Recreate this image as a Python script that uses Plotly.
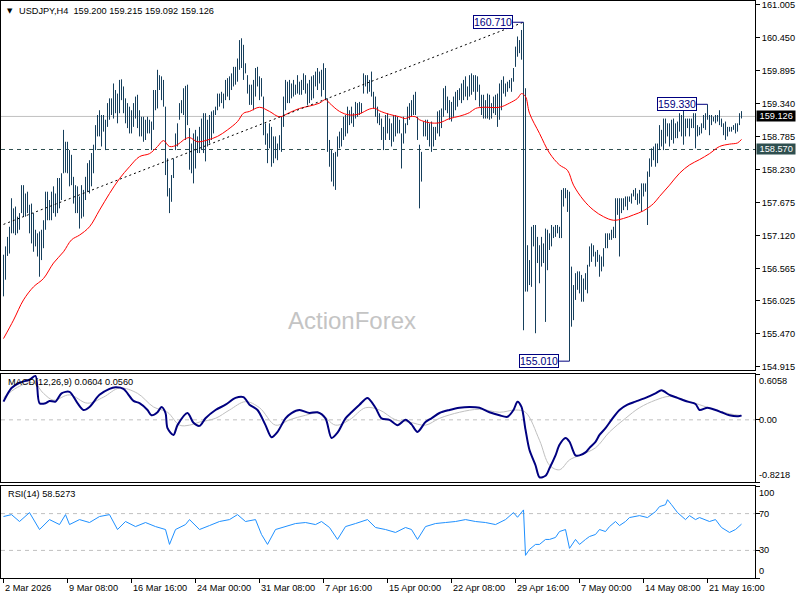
import plotly.graph_objects as go

# ------------------------------------------------------------------ data
title_text = "USDJPY,H4  159.200 159.215 159.092 159.126"
macd_text = "MACD(12,26,9) 0.0604 0.0560"
rsi_text = "RSI(14) 58.5273"
watermark = "ActionForex"

# H4 bars (index 0 = 2 Mar 2026 00:00)
high = [
    156.80, 156.94, 157.10, 157.27, 157.75, 157.58, 157.61, 157.44, 157.50, 157.97,
    157.97, 157.83, 157.86, 157.64, 157.66, 157.50, 157.22, 157.16, 157.19, 157.22,
    157.38, 157.86, 157.86, 157.72, 157.86, 157.95, 157.83, 158.09, 158.09, 158.17,
    158.90, 158.70, 158.70, 158.56, 158.48, 158.11, 157.97, 157.95, 157.78, 157.97,
    157.89, 158.11, 158.34, 158.39, 158.51, 158.65, 158.98, 159.15, 159.23, 159.15,
    159.15, 159.07, 159.35, 159.43, 159.43, 159.68, 159.57, 159.51, 159.74, 159.75,
    159.63, 159.43, 159.35, 159.29, 159.23, 159.35, 159.46, 159.49, 159.23, 159.12,
    159.12, 159.07, 159.12, 159.07, 159.04, 159.57, 159.57, 159.91, 159.82, 159.80,
    159.74, 159.29, 158.42, 157.92, 158.14, 158.42, 158.84, 159.01, 159.35, 159.40,
    159.60, 159.64, 159.66, 158.93, 158.67, 158.84, 158.90, 158.79, 158.95, 159.09,
    159.18, 159.18, 159.07, 159.15, 159.21, 159.23, 159.29, 159.51, 159.51, 159.54,
    159.51, 159.74, 159.77, 159.80, 159.85, 159.96, 159.96, 160.10, 160.41, 160.44,
    160.33, 160.02, 159.82, 159.66,
    159.66, 159.74, 159.94, 159.96, 159.80, 159.77, 159.46, 159.01, 158.84, 159.01,
    158.95, 158.79, 158.79, 158.67, 158.81, 159.12, 159.46, 159.74, 159.71, 159.74,
    159.68, 159.74, 159.66, 159.82, 159.71, 159.74, 159.85, 159.82, 159.68, 159.74,
    159.80, 159.82, 159.88, 159.94, 159.88, 159.91, 160.02, 159.94, 159.43, 158.73,
    158.56, 158.51, 158.53, 158.79, 158.87, 158.93, 159.12, 159.15, 159.29, 159.23,
    159.29, 159.18, 159.37, 159.35, 159.37, 159.35, 159.85, 159.82, 159.82, 159.74,
    159.88, 159.54, 159.46, 159.29, 159.18, 159.09, 158.95, 159.15, 159.18, 159.09,
    159.01, 159.15, 159.15, 159.12, 159.07, 158.84, 159.12, 159.01, 159.29, 159.35,
    159.40, 159.49, 159.54, 159.12, 158.65, 158.53, 159.04, 159.07, 159.07, 159.01,
    159.04, 158.95, 158.95, 159.21, 159.23, 159.26, 159.60, 159.64, 159.46, 159.40,
    159.37, 159.46, 159.54, 159.57, 159.60, 159.68, 159.74, 159.80, 159.63, 159.82,
    159.85, 159.82, 159.82, 159.80, 159.66, 159.49, 159.49, 159.40, 159.51, 159.49,
    159.35, 159.46, 159.49, 159.51, 159.68,
    159.74, 159.80, 159.68, 159.71, 159.74, 159.77, 159.94, 160.30, 160.47, 160.41,
    160.58, 160.71, 159.60, 156.96, 156.71, 157.27, 157.30, 157.30, 157.10, 156.96,
    157.10, 156.99, 157.24, 157.22, 157.16, 157.30, 157.27, 157.30, 157.30, 157.27,
    157.89, 157.92, 157.92, 157.89, 157.86,
    156.60, 156.29, 156.49, 156.52, 156.52, 156.46, 156.40, 156.49, 156.63, 156.94,
    156.99, 156.96, 156.85, 156.88, 156.80, 156.77, 156.91, 157.16, 157.16, 157.16,
    157.22, 157.27, 157.75, 157.75, 157.75, 157.75, 157.75, 157.78, 157.78, 157.78,
    157.83, 157.89, 157.92, 157.83, 157.89, 158.00, 158.00, 158.00, 158.20, 158.42,
    158.59, 158.62, 158.67, 158.67, 158.98, 158.90, 159.09, 159.09, 159.01, 159.01,
    159.07, 159.09, 159.01, 159.04, 159.18, 159.15, 159.26, 159.09, 159.09, 159.09,
    159.09, 159.18, 159.18, 158.98, 158.95, 159.01, 159.15, 159.18, 159.33, 159.15,
    159.15, 159.12, 159.15, 159.15, 159.23, 159.09, 159.01, 159.04, 158.95, 158.95,
    158.95, 158.98, 159.01, 159.01, 159.18, 159.215,
]
low = [
    156.10, 156.38, 156.78, 156.82, 157.16, 157.16, 157.13, 157.16, 157.22, 157.50,
    157.44, 157.44, 157.50, 157.16, 156.99, 156.85, 156.94, 156.77, 156.43, 156.71,
    156.91, 157.22, 157.38, 157.38, 157.38, 157.50, 157.44, 157.50, 157.58, 157.72,
    158.17, 158.18, 158.17, 157.95, 157.97, 157.66, 157.50, 157.50, 157.24, 157.41,
    157.44, 157.72, 157.86, 157.83, 157.95, 158.17, 158.56, 158.79, 158.79, 158.62,
    158.87, 158.56, 158.95, 159.07, 159.15, 159.09, 159.18, 159.01, 159.18, 159.40,
    159.18, 159.01, 158.93, 158.84, 158.84, 158.95, 159.09, 158.93, 158.79, 158.79,
    158.70, 158.73, 158.84, 158.84, 158.56, 158.90, 159.23, 159.26, 159.57, 159.40,
    159.29, 158.14, 157.78, 157.50, 157.69, 158.09, 158.56, 158.62, 159.07, 159.18,
    159.15, 158.73, 158.98, 158.23, 158.17, 158.00, 158.25, 158.51, 158.51, 158.56,
    158.51, 158.37, 158.62, 158.67, 158.73, 158.84, 159.15, 159.23, 159.29, 159.35,
    159.26, 159.40, 159.46, 159.40, 159.57, 159.63, 159.66, 159.71, 159.91, 159.94,
    159.74, 159.85, 159.51, 159.32,
    159.32, 159.23, 159.46, 159.63, 159.40, 159.46, 158.81, 158.65, 158.34, 158.59,
    158.28, 158.34, 158.42, 158.39, 158.56, 158.53, 158.95, 159.23, 159.35, 159.35,
    159.43, 159.46, 159.49, 159.51, 159.49, 159.49, 159.57, 159.51, 159.32, 159.35,
    159.40, 159.43, 159.63, 159.57, 159.68, 159.46, 159.57, 159.40, 158.53, 158.28,
    158.03, 157.95, 157.89, 158.45, 158.59, 158.62, 158.73, 158.79, 158.84, 158.98,
    159.01, 158.95, 159.09, 159.12, 159.15, 159.18, 159.51, 159.63, 159.51, 159.54,
    159.46, 159.26, 159.12, 159.01, 158.98, 158.73, 158.56, 158.73, 158.84, 158.73,
    158.62, 158.70, 158.79, 158.84, 158.84, 158.25, 158.67, 158.84, 158.98, 159.07,
    159.12, 159.15, 159.15, 158.73, 157.58, 158.03, 158.79, 158.79, 158.73, 158.62,
    158.53, 158.62, 158.73, 158.84, 158.79, 158.93, 159.12, 159.23, 159.18, 159.07,
    159.04, 159.12, 159.23, 159.29, 159.40, 159.35, 159.40, 159.46, 159.40, 159.46,
    159.49, 159.54, 159.40, 159.54, 159.29, 159.15, 159.09, 159.09, 159.09, 159.07,
    159.09, 159.18, 159.15, 158.95, 159.07,
    159.23, 159.51, 159.46, 159.54, 159.60, 159.54, 159.71, 159.96, 160.13, 160.19,
    160.08, 155.53, 156.18, 156.18, 156.29, 156.26, 156.94, 155.48, 156.66, 156.32,
    156.60, 156.66, 155.67, 156.54, 156.88, 156.94, 157.08, 157.10, 157.16, 157.08,
    157.08, 157.61, 157.75, 157.52, 155.01,
    155.59, 155.70, 156.04, 156.21, 156.15, 156.01, 156.01, 156.21, 156.15, 156.60,
    156.68, 156.77, 156.60, 156.68, 156.43, 156.52, 156.60, 156.91, 156.91, 157.05,
    157.05, 157.08, 157.08, 157.47, 156.77, 157.50, 157.55, 157.61, 157.55, 157.69,
    157.66, 157.78, 157.72, 157.64, 157.66, 157.52, 157.78, 157.86, 157.30, 158.11,
    158.28, 158.39, 158.28, 158.34, 158.56, 158.62, 158.56, 158.67, 158.79, 158.62,
    158.73, 158.67, 158.76, 158.76, 158.87, 158.79, 158.65, 158.79, 158.93, 158.79,
    158.93, 158.93, 158.59, 158.79, 158.81, 158.84, 158.93, 158.90, 159.07, 158.81,
    158.98, 159.04, 159.01, 159.04, 158.98, 158.95, 158.81, 158.73, 158.79, 158.87,
    158.87, 158.90, 158.84, 158.87, 158.98, 159.092,
]

# moving average (red)
ma_idx = [0, 5, 10, 15, 20, 25, 30, 34, 38, 43, 48, 53, 58, 63, 68, 73, 77, 80, 83, 87,
          90, 93, 97, 102, 107, 112, 117, 120, 123, 128, 133, 138, 143, 148, 153, 158, 161, 163, 168, 173,
          178, 183, 186, 188, 193, 198, 201, 203, 206, 208, 213, 218, 223, 228, 233, 236, 240, 248, 253, 257,
          259, 261, 263, 268, 273, 278, 282, 285, 290, 295, 300, 305, 310, 315, 320, 325, 328, 333, 338, 343,
          348, 353, 358, 363, 367, 369]
ma_val = [155.39, 155.70, 156.04, 156.26, 156.40, 156.66, 156.85, 157.05, 157.13, 157.27,
          157.55, 157.83, 158.08, 158.28, 158.45, 158.50, 158.62, 158.72, 158.62, 158.65,
          158.73, 158.77, 158.70, 158.73, 158.79, 158.90, 159.04, 159.18, 159.21, 159.28,
          159.21, 159.12, 159.19, 159.26, 159.30, 159.35, 159.41, 159.35, 159.21, 159.15,
          159.17, 159.25, 159.26, 159.22, 159.16, 159.12, 159.09, 159.12, 159.12, 159.07,
          159.02, 159.02, 159.09, 159.13, 159.19, 159.26, 159.28, 159.28, 159.35, 159.43,
          159.51, 159.46, 159.18, 158.84, 158.51, 158.31, 158.22, 157.97, 157.72, 157.55,
          157.44, 157.38, 157.41, 157.47, 157.54, 157.66, 157.78, 157.97, 158.17, 158.31,
          158.40, 158.50, 158.62, 158.66, 158.68, 158.74]

# MACD main line (navy) and signal (silver)
macd_idx = [0, 4, 8, 13, 16, 18, 21, 23, 26, 29, 33, 37, 40, 43, 48, 53, 56, 60, 62, 65,
            68, 72, 74, 77, 79, 81, 82, 85, 87, 92, 95, 98, 101, 106, 111, 116, 120, 123, 127, 131,
            134, 137, 141, 144, 148, 153, 157, 161, 164, 167, 171, 174, 178, 182, 186, 189, 193, 197, 201, 204,
            207, 211, 214, 218, 223, 228, 233, 238, 243, 248, 252, 255, 257, 259, 261, 263, 266, 268, 271, 273,
            276, 278, 281, 283, 286, 288, 291, 293, 296, 298, 301, 304, 308, 312, 316, 321, 326, 329, 333, 337,
            342, 346, 348, 352, 356, 359, 363, 368, 369]
macd_val = [0.24, 0.42, 0.49, 0.53, 0.58, 0.22, 0.22, 0.25, 0.24, 0.35,
            0.37, 0.22, 0.13, 0.17, 0.33, 0.41, 0.43, 0.41, 0.35, 0.25,
            0.22, 0.13, 0.06, 0.10, 0.17, 0.09, -0.11, -0.20, -0.07, 0.09,
            -0.04, -0.08, 0.02, 0.13, 0.20, 0.29, 0.30, 0.20, 0.13, -0.07,
            -0.23, -0.16, 0.02, 0.09, 0.13, 0.09, 0.10, 0.02, -0.24, -0.17,
            0.02, 0.10, 0.20, 0.29, 0.16, 0.02, 0.00, -0.07, 0.00, -0.06,
            -0.16, -0.03, 0.02, 0.09, 0.13, 0.16, 0.17, 0.16, 0.10, 0.06,
            0.04, 0.13, 0.24, 0.17, -0.13, -0.40, -0.60, -0.76, -0.74, -0.64,
            -0.47, -0.33, -0.24, -0.29, -0.47, -0.47, -0.43, -0.37, -0.29, -0.20,
            -0.11, 0.00, 0.13, 0.20, 0.24, 0.29, 0.35, 0.39, 0.33, 0.29,
            0.24, 0.21, 0.13, 0.16, 0.13, 0.10, 0.06, 0.05, 0.0604]
sig_idx = [0, 7, 15, 20, 25, 33, 42, 50, 58, 67, 75, 82, 88, 93, 98, 106, 113, 121, 128, 136,
           143, 151, 158, 166, 173, 181, 188, 196, 203, 211, 218, 228, 238, 248, 256, 261, 268, 273, 278, 283,
           288, 296, 303, 311, 318, 326, 333, 341, 348, 356, 363, 369]
sig_val = [0.29, 0.43, 0.49, 0.35, 0.26, 0.33, 0.22, 0.30, 0.42, 0.35,
           0.17, 0.10, -0.07, -0.07, -0.03, 0.02, 0.13, 0.24, 0.16, -0.07,
           0.00, 0.06, 0.09, -0.07, 0.00, 0.16, 0.13, 0.00, -0.03, -0.07,
           0.02, 0.10, 0.14, 0.10, 0.13, 0.10, -0.27, -0.60, -0.66, -0.53,
           -0.47, -0.37, -0.16, 0.02, 0.16, 0.26, 0.31, 0.26, 0.20, 0.13,
           0.08, 0.056]

# RSI(14)
rsi_idx = [0, 4, 8, 13, 18, 23, 28, 31, 33, 38, 43, 48, 53, 57, 61, 66, 71, 76, 81, 83,
           86, 91, 93, 98, 103, 108, 113, 117, 121, 126, 129, 132, 136, 141, 146, 151, 156, 159, 163, 167,
           171, 176, 179, 182, 186, 191, 196, 201, 204, 207, 211, 216, 221, 226, 231, 236, 241, 246, 251, 255,
           257, 260, 261, 263, 266, 268, 271, 273, 276, 278, 281, 283, 286, 288, 291, 293, 296, 298, 301, 303,
           306, 308, 311, 313, 318, 322, 326, 328, 331, 332, 334, 337, 341, 343, 346, 348, 353, 356, 359, 363,
           366, 369]
rsi_val = [66.8, 68.9, 61.4, 71.1, 52.7, 63.5, 58.1, 68.9, 58.1, 63.5,
           60.3, 66.8, 68.9, 52.7, 61.4, 55.9, 60.3, 55.9, 52.7, 36.5,
           52.7, 58.1, 63.5, 52.7, 57.0, 61.4, 63.5, 68.9, 61.4, 63.5,
           47.3, 36.5, 52.7, 55.9, 59.2, 60.3, 58.1, 61.4, 54.9, 41.9,
           55.9, 59.2, 61.4, 63.5, 54.9, 52.7, 49.5, 54.9, 52.7, 41.9,
           55.9, 59.2, 60.3, 61.4, 63.5, 61.4, 60.3, 58.1, 63.5, 71.1,
           66.0, 74.0, 24.6, 31.1, 36.5, 36.5, 41.9, 41.9, 44.1, 50.5,
           52.7, 32.2, 41.9, 36.5, 41.9, 45.1, 47.3, 52.7, 50.5, 55.9,
           61.4, 57.0, 61.4, 65.7, 67.8, 65.7, 72.2, 77.6, 79.7, 85.1,
           79.7, 71.1, 63.5, 67.8, 63.5, 65.7, 61.4, 63.5, 54.9, 49.5,
           52.7, 58.53]

trend_idx = [0, 260]
trend_price = [157.31, 160.71]
mark_idx = [260, 283, 352]
mark_price = [160.710, 155.010, 159.330]
bid_price = 159.126
level_price = 158.570
price_ticks = [161.005, 160.450, 159.895, 159.340, 158.785, 158.230,
               157.675, 157.120, 156.565, 156.025, 155.470, 154.915]
macd_ticks = [0.6058, 0.0, -0.8218]
macd_tick_text = ["0.6058", "0.00", "-0.8218"]
rsi_ticks = [100, 70, 30, 0]
rsi_levels = [70, 30]
date_idx = [0, 32, 64, 96, 128, 160, 192, 224, 256, 288, 320, 352]
date_labels = ["2 Mar 2026", "9 Mar 08:00", "16 Mar 16:00", "24 Mar 00:00",
               "31 Mar 08:00", "7 Apr 16:00", "15 Apr 00:00", "22 Apr 08:00",
               "29 Apr 16:00", "7 May 00:00", "14 May 08:00", "21 May 16:00"]

assert len(high) == len(low) == 370
assert len(ma_idx) == len(ma_val)
assert len(macd_idx) == len(macd_val)
assert len(sig_idx) == len(sig_val)
assert len(rsi_idx) == len(rsi_val)

# ------------------------------------------------------------------ layout constants
FONT = "Liberation Sans, Arial, sans-serif"
FS = 9.2
W, H = 800, 600
ML, MR, MT, MB = 1, 45, 1, 22
PH = H - MT - MB


def fy(pix):
    return (H - MB - pix) / PH


X0, X1 = -1.25, 375.75
PX_PER_UNIT = 59.46
Y_TOP = 161.005 + (4.7 - 1) / PX_PER_UNIT
Y_BOT = 161.005 - (370 - 4.7) / PX_PER_UNIT
BAR_COLOR = "#163f5c"
NAVY = "#000080"

# ------------------------------------------------------------------ traces
bx, by = [], []
for i, (h, l) in enumerate(zip(high, low)):
    bx += [i, i, None]
    by += [l, h, None]

fig = go.Figure()
fig.add_trace(go.Scatter(x=bx, y=by, mode="lines", line=dict(color=BAR_COLOR, width=1),
                         xaxis="x", yaxis="y", hoverinfo="skip"))
fig.add_trace(go.Scatter(x=ma_idx, y=ma_val, mode="lines",
                         line=dict(color="#ff0000", width=1, shape="spline"),
                         xaxis="x", yaxis="y", hoverinfo="skip"))
fig.add_trace(go.Scatter(x=trend_idx, y=trend_price, mode="lines",
                         line=dict(color="#000000", width=1, dash="2px,3px"),
                         xaxis="x", yaxis="y", hoverinfo="skip"))
CONN = 5.2  # connector length in bars (style)
for mi, mp in zip(mark_idx, mark_price):
    fig.add_trace(go.Scatter(x=[mi - CONN, mi], y=[mp, mp], mode="lines",
                             line=dict(color=NAVY, width=1), xaxis="x", yaxis="y",
                             hoverinfo="skip"))
fig.add_trace(go.Scatter(x=sig_idx, y=sig_val, mode="lines",
                         line=dict(color="#c0c0c0", width=1, shape="spline"),
                         xaxis="x2", yaxis="y2", hoverinfo="skip"))
fig.add_trace(go.Scatter(x=macd_idx, y=macd_val, mode="lines",
                         line=dict(color=NAVY, width=2, shape="spline", smoothing=0.8),
                         xaxis="x2", yaxis="y2", hoverinfo="skip"))
fig.add_trace(go.Scatter(x=rsi_idx, y=rsi_val, mode="lines",
                         line=dict(color="#1e90ff", width=1),
                         xaxis="x3", yaxis="y3", hoverinfo="skip"))

# ------------------------------------------------------------------ shapes
shapes = [
    dict(type="line", xref="x", yref="y", x0=X0, x1=X1, y0=bid_price, y1=bid_price,
         line=dict(color="#c0c0c0", width=1), layer="below"),
    dict(type="line", xref="x", yref="y", x0=X0, x1=X1, y0=level_price, y1=level_price,
         line=dict(color="#2f4f4f", width=1, dash="4px,4px"), layer="below"),
    dict(type="line", xref="x2", yref="y2", x0=X0, x1=X1, y0=0, y1=0,
         line=dict(color="#c0c0c0", width=1, dash="4px,4px"), layer="below"),
]
for lv in rsi_levels:
    shapes.append(dict(type="line", xref="x3", yref="y3", x0=X0, x1=X1, y0=lv, y1=lv,
                       line=dict(color="#c0c0c0", width=1, dash="4px,4px"), layer="below"))

# ------------------------------------------------------------------ annotations
ann = []
ann.append(dict(text="▼", x=0, xref="paper", xanchor="left", xshift=4,
                y=1, yref="paper", yanchor="middle", yshift=-10, showarrow=False,
                font=dict(family="DejaVu Sans", size=7, color="black")))
ann.append(dict(text=title_text, x=0, xref="paper", xanchor="left", xshift=16,
                y=1, yref="paper", yanchor="middle", yshift=-10, showarrow=False,
                font=dict(family=FONT, size=FS, color="black")))
ann.append(dict(text=macd_text, x=0, xref="paper", xanchor="left", xshift=5,
                y=fy(381.5), yref="paper", yanchor="middle", showarrow=False,
                font=dict(family=FONT, size=FS, color="black")))
ann.append(dict(text=rsi_text, x=0, xref="paper", xanchor="left", xshift=5,
                y=fy(494), yref="paper", yanchor="middle", showarrow=False,
                font=dict(family=FONT, size=FS, color="black")))
ann.append(dict(text=watermark, x=(352 - ML) / (W - ML - MR), xref="paper", xanchor="center",
                y=fy(320), yref="paper", yanchor="middle", showarrow=False,
                font=dict(family=FONT, size=24, color="#c4c4c4")))
for mi, mp in zip(mark_idx, mark_price):
    ann.append(dict(text=f"{mp:.3f}", x=mi - CONN, xref="x", xanchor="right",
                    y=mp, yref="y", yanchor="middle", showarrow=False,
                    bgcolor="white", bordercolor=NAVY, borderwidth=1, borderpad=0,
                    font=dict(family=FONT, size=10.5, color=NAVY)))
ann.append(dict(text=f" {bid_price:.3f} ", x=1, xref="paper", xanchor="left", xshift=1,
                y=bid_price, yref="y", yanchor="middle", showarrow=False,
                bgcolor="black", borderpad=0,
                font=dict(family=FONT, size=FS, color="white")))
ann.append(dict(text=f" {level_price:.3f} ", x=1, xref="paper", xanchor="left", xshift=1,
                y=level_price, yref="y", yanchor="middle", showarrow=False,
                bgcolor="#2f4f4f", borderpad=0,
                font=dict(family=FONT, size=FS, color="white")))
for k, (v, t) in enumerate(zip(macd_ticks, macd_tick_text)):
    anchor = "top" if k == 0 else ("bottom" if k == len(macd_ticks) - 1 else "middle")
    ann.append(dict(text=t, x=1, xref="paper", xanchor="left", xshift=2,
                    y=v, yref="y2", yanchor=anchor, showarrow=False,
                    font=dict(family=FONT, size=FS, color="black")))
for k, v in enumerate(rsi_ticks):
    anchor = "top" if k == 0 else ("bottom" if k == len(rsi_ticks) - 1 else "middle")
    ann.append(dict(text=str(v), x=1, xref="paper", xanchor="left", xshift=2,
                    y=v, yref="y3", yanchor=anchor, showarrow=False,
                    font=dict(family=FONT, size=FS, color="black")))
for di, dl in zip(date_idx, date_labels):
    ann.append(dict(text=dl, x=di, xref="x3", xanchor="left", xshift=-1,
                    y=0, yref="paper", yanchor="top", yshift=-3, showarrow=False,
                    font=dict(family=FONT, size=FS, color="black")))

# ------------------------------------------------------------------ axes
xcommon = dict(range=[X0, X1], showgrid=False, zeroline=False, showline=True,
               mirror=True, linecolor="black", linewidth=1, showticklabels=False,
               fixedrange=True)
ycommon = dict(showgrid=False, zeroline=False, showline=True, mirror=True,
               linecolor="black", linewidth=1, side="right", fixedrange=True,
               ticks="outside", ticklen=4, tickcolor="black",
               tickfont=dict(family=FONT, size=FS, color="black"))

fig.update_layout(
    width=W, height=H,
    margin=dict(l=ML, r=MR, t=MT, b=MB, pad=0),
    paper_bgcolor="white", plot_bgcolor="white",
    showlegend=False, hovermode=False,
    xaxis=dict(**xcommon, anchor="y", domain=[0, 1]),
    xaxis2=dict(**xcommon, anchor="y2", domain=[0, 1], matches="x"),
    xaxis3=dict(**xcommon, anchor="y3", domain=[0, 1], matches="x",
                ticks="outside", ticklen=4, tickcolor="black", tickvals=date_idx),
    yaxis=dict(**ycommon, anchor="x", domain=[fy(370), 1.0], range=[Y_BOT, Y_TOP],
               tickvals=price_ticks, ticktext=[f"{v:.3f}" for v in price_ticks],
               showticklabels=True, ticklabeloverflow="allow"),
    yaxis2=dict(**ycommon, anchor="x2", domain=[fy(482), fy(374)],
                range=[macd_ticks[-1], macd_ticks[0]], tickvals=macd_ticks,
                showticklabels=False),
    yaxis3=dict(**ycommon, anchor="x3", domain=[0, fy(486)], range=[0, 100],
                tickvals=rsi_ticks, showticklabels=False),
    shapes=shapes,
    annotations=ann,
)

fig.write_html("out.html")
